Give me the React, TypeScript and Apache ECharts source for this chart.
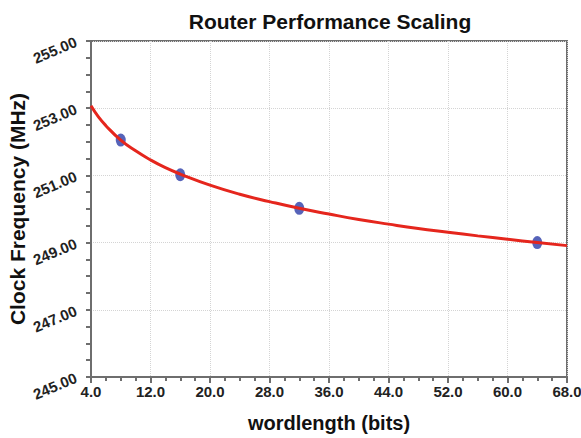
import React, { useEffect, useRef } from "react";
import * as echarts from "echarts";

// Measured clock frequency per word length
const measuredWordlength = [8, 16, 32, 64];
const measuredFrequency = [252.05, 251.02, 250.02, 249.0];

// Fitted trend curve
const fitWordlength = [4, 5, 6, 8, 10, 12, 14, 16, 20, 24, 28, 32, 36, 40, 44, 48, 52, 56, 60, 64, 68];
const fitFrequency = [253.07, 252.74, 252.48, 252.05, 251.73, 251.46, 251.23, 251.04, 250.71, 250.44, 250.22, 250.02, 249.85, 249.69, 249.55, 249.42, 249.31, 249.2, 249.1, 249.0, 248.91];

const FONT = "'Liberation Sans', Arial, sans-serif";

export default function App() {
  const ref = useRef<HTMLDivElement>(null);

  useEffect(() => {
    if (!ref.current) return;
    const chart = echarts.init(ref.current, null, { renderer: "svg" });
    chart.setOption({
      animation: false,
      backgroundColor: "#ffffff",
      title: {
        text: "Router Performance Scaling",
        left: 325,
        top: 6,
        textAlign: "center",
        textStyle: { fontFamily: FONT, fontWeight: "bold", fontSize: 21, color: "#111" },
      },
      grid: {
        left: 91,
        right: 14,
        top: 41,
        bottom: 61,
        outerBoundsMode: "none",
        containLabel: false,
        show: true,
        borderColor: "#6e6e6e",
        borderWidth: 2,
        backgroundColor: "transparent",
      },
      xAxis: {
        type: "value",
        min: 4,
        max: 68,
        interval: 8,
        name: "wordlength (bits)",
        nameLocation: "middle",
        nameGap: 36,
        nameTextStyle: { fontFamily: FONT, fontWeight: "bold", fontSize: 20, color: "#111" },
        axisLine: { show: true, lineStyle: { color: "#6e6e6e", width: 2 } },
        axisTick: { show: true, length: 6, lineStyle: { color: "#6e6e6e", width: 2 } },
        minorTick: { show: true, splitNumber: 4, length: 4, lineStyle: { color: "#6e6e6e", width: 2 } },
        axisLabel: {
          fontFamily: FONT,
          fontWeight: "bold",
          fontSize: 15,
          color: "#222",
          margin: 7,
          formatter: (v: number) => v.toFixed(1),
        },
        splitLine: { show: true, lineStyle: { color: "#d4d4d4", type: "dotted", width: 1 } },
      },
      yAxis: {
        type: "value",
        min: 245,
        max: 255,
        interval: 2,
        name: "Clock Frequency (MHz)",
        nameLocation: "middle",
        nameGap: 63,
        nameMoveOverlap: false,
        nameTextStyle: { fontFamily: FONT, fontWeight: "bold", fontSize: 21, color: "#111" },
        axisLine: { show: true, lineStyle: { color: "#6e6e6e", width: 2 } },
        axisTick: { show: true, length: 5, lineStyle: { color: "#6e6e6e", width: 2 } },
        minorTick: { show: true, splitNumber: 4, length: 5, lineStyle: { color: "#6e6e6e", width: 2 } },
        axisLabel: {
          fontFamily: FONT,
          fontWeight: "bold",
          fontSize: 15,
          color: "#222",
          rotate: 23,
          margin: 15,
          formatter: (v: number) => v.toFixed(2),
        },
        splitLine: { show: true, lineStyle: { color: "#d4d4d4", type: "dotted", width: 1 } },
      },
      series: [
        {
          type: "scatter",
          data: measuredWordlength.map((x, i) => [x, measuredFrequency[i]]),
          symbol: "path://M0,-1A1,1 0 1,1 0,1A1,1 0 1,1 0,-1Z",
          symbolSize: [10, 13],
          itemStyle: { color: "#2c3ca8" },
          z: 2,
        },
        {
          type: "line",
          data: fitWordlength.map((x, i) => [x, fitFrequency[i]]),
          smooth: true,
          showSymbol: false,
          lineStyle: { color: "#e5261d", width: 3 },
          z: 3,
        },
      ],
    });
    return () => chart.dispose();
  }, []);

  return <div ref={ref} style={{ width: 581, height: 438, position: "absolute", left: 0, top: 0 }} />;
}
